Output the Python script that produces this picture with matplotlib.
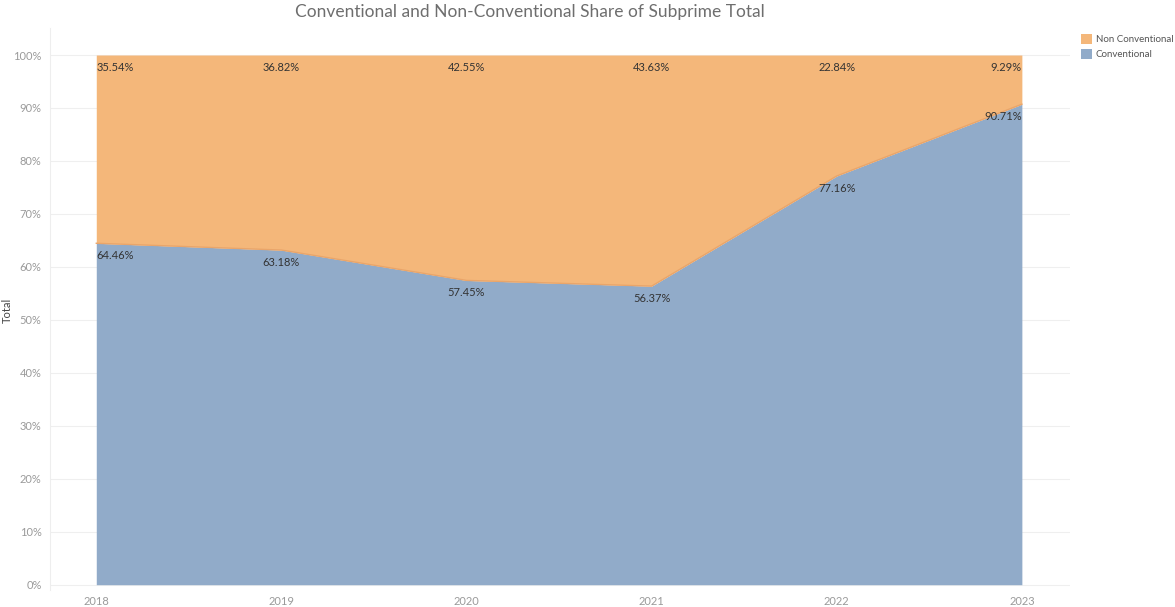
import matplotlib
matplotlib.use("Agg")
import matplotlib.pyplot as plt
from matplotlib.patches import Patch
from matplotlib.ticker import FuncFormatter

years = [2018, 2019, 2020, 2021, 2022, 2023]
conventional = [64.46, 63.18, 57.45, 56.37, 77.16, 90.71]
non_conventional = [35.54, 36.82, 42.55, 43.63, 22.84, 9.29]

blue = "#91ABC9"
orange = "#F4B77A"
edge = "#E9A56A"
tick_color = "#9a9a9a"
label_color = "#333333"

plt.rcParams["font.family"] = ["Lato", "DejaVu Sans"]

fig = plt.figure(figsize=(11.75, 6.07), dpi=100)
ax = fig.add_axes([50 / 1175, 17 / 607, 1020 / 1175, 562 / 607])

top = [c + n for c, n in zip(conventional, non_conventional)]
ax.fill_between(years, 0, conventional, color=blue, lw=0, zorder=2)
ax.fill_between(years, conventional, top, color=orange, lw=0, zorder=2)
ax.plot(years, conventional, color=edge, lw=1.0, zorder=3)

ax.set_xlim(2017.75, 2023.26)
ax.set_ylim(-1, 105.1)
ax.set_yticks(range(0, 101, 10))
ax.yaxis.set_major_formatter(FuncFormatter(lambda v, p: f"{v:.0f}%"))
ax.set_xticks(years)
ax.set_xticklabels([str(y) for y in years])
ax.tick_params(axis="both", length=0, colors=tick_color, labelsize=8)
ax.tick_params(axis="y", pad=6)
ax.tick_params(axis="x", pad=4)
ax.grid(axis="y", color="#efefef", lw=0.8, zorder=1)
for s in ["top", "right", "bottom"]:
    ax.spines[s].set_visible(False)
ax.spines["left"].set_color("#eeeeee")
fig.text(7 / 1175, 1 - 310 / 607, "Total", rotation=90, ha="center", va="center",
         fontsize=8, color="#444444")

n = len(years)
for i, (yr, c, nc, t) in enumerate(zip(years, conventional, non_conventional, top)):
    ha = "left" if i == 0 else ("right" if i == n - 1 else "center")
    ax.annotate(f"{c:.2f}%", (yr, c), xytext=(0, -5), textcoords="offset points",
                ha=ha, va="top", fontsize=8, color=label_color, zorder=4)
    ax.annotate(f"{nc:.2f}%", (yr, t), xytext=(0, -5), textcoords="offset points",
                ha=ha, va="top", fontsize=8, color=label_color, zorder=4)

fig.text(530 / 1175, 1 - 12 / 607, "Conventional and Non-Conventional Share of Subprime Total",
         ha="center", va="center", fontsize=12.5, color="#6e6e6e")

handles = [Patch(facecolor=orange, edgecolor="none", label="Non Conventional"),
           Patch(facecolor=blue, edgecolor="none", label="Conventional")]
fig.legend(handles=handles, loc="upper left", bbox_to_anchor=(1077 / 1175, 1 - 30 / 607),
           frameon=False, fontsize=7, handlelength=1.15, handleheight=1.15,
           handletextpad=0.4, labelspacing=0.5, borderaxespad=0,
           labelcolor="#555555")

fig.savefig("out.png", dpi=100)
